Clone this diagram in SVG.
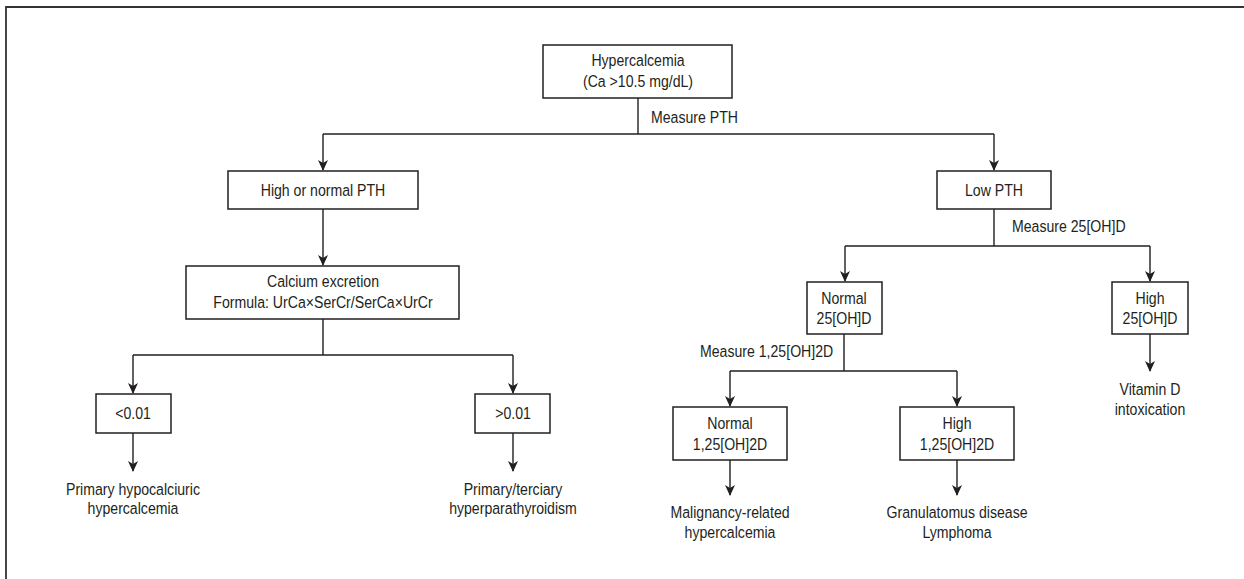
<svg xmlns="http://www.w3.org/2000/svg" width="1244" height="579" viewBox="0 0 1244 579">
<style>
.box{fill:#fff;stroke:#231f20;stroke-width:1.5}
.ln{fill:none;stroke:#231f20;stroke-width:1.4}
.t{font-family:"Liberation Sans",Arial,sans-serif;font-size:17px;fill:#231f20;text-anchor:middle}
.s{text-anchor:start}
</style>
<rect width="1244" height="579" fill="#fff"/>
<path d="M6,579 V7 H1244" fill="none" stroke="#333" stroke-width="1.8"/>
<g id="connectors">
<path class="ln" d="M638,98 V134"/>
<path class="ln" d="M323,134 H994"/>
<path class="ln" d="M323,134 V170"/>
<path class="ln" d="M994,134 V170"/>
<path class="ln" d="M323,209 V265"/>
<path class="ln" d="M323,319 V355 M133,355 H513 M133,355 V393 M513,355 V393"/>
<path class="ln" d="M133,433 V471 M513,433 V471"/>
<path class="ln" d="M994,209 V246 M845,246 H1150 M845,246 V281 M1150,246 V281"/>
<path class="ln" d="M844,334 V371 M730,371 H957 M730,371 V406 M957,371 V406"/>
<path class="ln" d="M730,460 V495 M957,460 V495 M1150,334 V371"/>
</g>
<g id="arrowheads" fill="#231f20">
<path d="M318,160 L323,163 L328,160 L323,171 Z"/>
<path d="M989,160 L994,163 L999,160 L994,171 Z"/>
<path d="M318,255 L323,258 L328,255 L323,266 Z"/>
<path d="M128,383 L133,386 L138,383 L133,394 Z"/>
<path d="M508,383 L513,386 L518,383 L513,394 Z"/>
<path d="M128,461 L133,464 L138,461 L133,472 Z"/>
<path d="M508,461 L513,464 L518,461 L513,472 Z"/>
<path d="M840,271 L845,274 L850,271 L845,282 Z"/>
<path d="M1145,271 L1150,274 L1155,271 L1150,282 Z"/>
<path d="M725,396 L730,399 L735,396 L730,407 Z"/>
<path d="M952,396 L957,399 L962,396 L957,407 Z"/>
<path d="M725,485 L730,488 L735,485 L730,496 Z"/>
<path d="M952,485 L957,488 L962,485 L957,496 Z"/>
<path d="M1145,361 L1150,364 L1155,361 L1150,372 Z"/>
</g>
<g id="labels">
<text class="t s" transform="translate(651,123) scale(0.83,1)">Measure PTH</text>
<text class="t s" transform="translate(1012,232) scale(0.83,1)">Measure 25[OH]D</text>
<text class="t s" transform="translate(700,357) scale(0.83,1)">Measure 1,25[OH]2D</text>
</g>
<g id="n-hypercalcemia"><rect class="box" x="543" y="45" width="189" height="53"/>
<text class="t" transform="translate(638,66) scale(0.83,1)">Hypercalcemia</text><text class="t" transform="translate(638,87) scale(0.83,1)">(Ca &gt;10.5 mg/dL)</text></g>
<g id="n-highnormal"><rect class="box" x="228" y="171" width="190" height="38"/>
<text class="t" transform="translate(323,196) scale(0.83,1)">High or normal PTH</text></g>
<g id="n-calcium"><rect class="box" x="186" y="266" width="273" height="53"/>
<text class="t" transform="translate(323,287) scale(0.83,1)">Calcium excretion</text><text class="t" transform="translate(323,308) scale(0.83,1)">Formula: UrCa×SerCr/SerCa×UrCr</text></g>
<g id="n-lt"><rect class="box" x="96" y="394" width="75" height="39"/>
<text class="t" transform="translate(133,419) scale(0.83,1)">&lt;0.01</text></g>
<g id="n-gt"><rect class="box" x="475" y="394" width="75" height="39"/>
<text class="t" transform="translate(513,419) scale(0.83,1)">&gt;0.01</text></g>
<g id="n-hypocalciuric"><text class="t" transform="translate(133,495) scale(0.83,1)">Primary hypocalciuric</text><text class="t" transform="translate(133,514) scale(0.83,1)">hypercalcemia</text></g>
<g id="n-hyperpara"><text class="t" transform="translate(513,495) scale(0.83,1)">Primary/terciary</text><text class="t" transform="translate(513,514) scale(0.83,1)">hyperparathyroidism</text></g>
<g id="n-lowpth"><rect class="box" x="937" y="171" width="114" height="38"/>
<text class="t" transform="translate(994,196) scale(0.83,1)">Low PTH</text></g>
<g id="n-normal25"><rect class="box" x="807" y="282" width="75" height="52"/>
<text class="t" transform="translate(844,304) scale(0.83,1)">Normal</text><text class="t" transform="translate(844,324) scale(0.83,1)">25[OH]D</text></g>
<g id="n-high25"><rect class="box" x="1112" y="282" width="76" height="52"/>
<text class="t" transform="translate(1150,304) scale(0.83,1)">High</text><text class="t" transform="translate(1150,324) scale(0.83,1)">25[OH]D</text></g>
<g id="n-vitd"><text class="t" transform="translate(1150,395) scale(0.83,1)">Vitamin D</text><text class="t" transform="translate(1150,415) scale(0.83,1)">intoxication</text></g>
<g id="n-normal125"><rect class="box" x="673" y="407" width="114" height="53"/>
<text class="t" transform="translate(730,429) scale(0.83,1)">Normal</text><text class="t" transform="translate(730,450) scale(0.83,1)">1,25[OH]2D</text></g>
<g id="n-high125"><rect class="box" x="900" y="407" width="114" height="53"/>
<text class="t" transform="translate(957,429) scale(0.83,1)">High</text><text class="t" transform="translate(957,450) scale(0.83,1)">1,25[OH]2D</text></g>
<g id="n-malignancy"><text class="t" transform="translate(730,518) scale(0.83,1)">Malignancy-related</text><text class="t" transform="translate(730,538) scale(0.83,1)">hypercalcemia</text></g>
<g id="n-granulomatous"><text class="t" transform="translate(957,518) scale(0.83,1)">Granulatomus disease</text><text class="t" transform="translate(957,538) scale(0.83,1)">Lymphoma</text></g>
</svg>
